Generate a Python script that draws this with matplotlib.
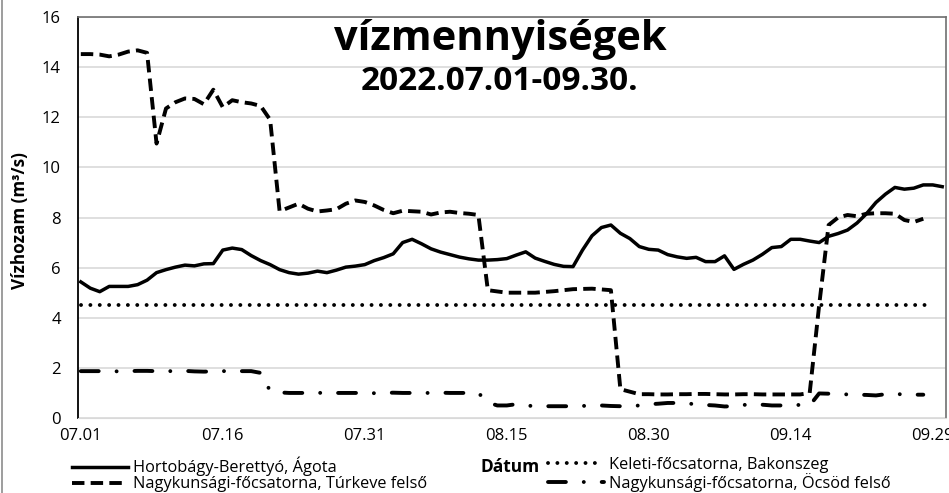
import numpy as np
import matplotlib
matplotlib.use('Agg')
import matplotlib.pyplot as plt
from matplotlib.lines import Line2D

plt.rcParams['font.family'] = ['Open Sans', 'DejaVu Sans']

nan = np.nan

# ---- data: daily discharge (m3/s), 2022.07.01 - 2022.09.30 ----
days = np.arange(92)
tick_days = [0, 15, 30, 45, 60, 75, 90]
tick_labels = ['07.01', '07.16', '07.31', '08.15', '08.30', '09.14', '09.29']

agota = [5.43, 5.18, 5.04, 5.25, 5.25, 5.25, 5.32, 5.50, 5.80, 5.92,
         6.02, 6.10, 6.07, 6.15, 6.16, 6.70, 6.78, 6.72, 6.48, 6.28,
         6.12, 5.92, 5.80, 5.74, 5.78, 5.86, 5.80, 5.90, 6.02, 6.06,
         6.12, 6.28, 6.40, 6.55, 7.00, 7.13, 6.95, 6.75, 6.62, 6.52,
         6.42, 6.35, 6.30, 6.30, 6.32, 6.36, 6.50, 6.63, 6.38, 6.25,
         6.13, 6.05, 6.04, 6.70, 7.27, 7.60, 7.70, 7.37, 7.16, 6.84,
         6.73, 6.70, 6.52, 6.43, 6.37, 6.41, 6.24, 6.24, 6.47, 5.93,
         6.13, 6.30, 6.53, 6.80, 6.84, 7.13, 7.13, 7.06, 7.00, 7.25,
         7.36, 7.50, 7.78, 8.15, 8.60, 8.93, 9.20, 9.13, 9.17, 9.30,
         9.30, 9.23]

turkeve = [14.52, 14.52, 14.50, 14.43, 14.50, 14.62, 14.67, 14.57, 10.95, 12.35,
           12.60, 12.75, 12.73, 12.52, 13.10, 12.40, 12.68, 12.60, 12.55, 12.45,
           11.90, 8.25, 8.40, 8.55, 8.35, 8.24, 8.28, 8.33, 8.55, 8.68,
           8.62, 8.48, 8.30, 8.17, 8.27, 8.25, 8.23, 8.12, 8.20, 8.23,
           8.18, 8.15, 8.10, 5.10, 5.05, 5.00, 5.00, 5.00, 5.00, 5.03,
           5.06, 5.10, 5.14, 5.15, 5.16, 5.13, 5.10, 1.15, 1.05, 0.95,
           0.95, 0.94, 0.94, 0.95, 0.95, 0.96, 0.96, 0.95, 0.94, 0.94,
           0.95, 0.95, 0.94, 0.94, 0.94, 0.94, 0.94, 1.00, 4.50, 7.70,
           8.00, 8.10, 8.05, 8.15, 8.17, 8.17, 8.15, 7.90, 7.82, 7.95,
           nan, nan]

bakonszeg = [4.5] * 91 + [nan]

ocsod = [1.87, 1.87, 1.87, 1.87, 1.86, 1.87, 1.88, 1.88, 1.87, 1.87,
         1.87, 1.88, 1.86, 1.85, 1.86, 1.87, 1.87, 1.87, 1.87, 1.80,
         1.08, 1.02, 1.00, 1.00, 1.00, 1.00, 1.01, 1.00, 1.00, 1.00,
         1.00, 0.99, 1.00, 1.01, 1.00, 1.00, 1.00, 1.00, 1.01, 1.00,
         1.00, 1.00, 1.00, 0.62, 0.50, 0.50, 0.55, 0.50, 0.47, 0.47,
         0.47, 0.47, 0.47, 0.48, 0.50, 0.50, 0.48, 0.47, 0.47, 0.50,
         0.55, 0.57, 0.60, 0.60, 0.58, 0.55, 0.52, 0.50, 0.46, 0.47,
         0.52, 0.55, 0.53, 0.50, 0.50, 0.52, 0.52, 0.50, 0.98, 0.97,
         0.96, 0.94, 0.93, 0.92, 0.90, 0.95, 0.97, 0.93, 0.93, 0.93,
         nan, nan]

names = ['Hortobágy-Berettyó, Ágota',
         'Nagykunsági-főcsatorna, Túrkeve felső',
         'Keleti-főcsatorna, Bakonszeg',
         'Nagykunsági-főcsatorna, Öcsöd felső']

# ---- plot ----
fig = plt.figure(figsize=(9.49, 4.93), dpi=100)
ax = fig.add_axes([77.5 / 949, 1 - 418 / 493, (946 - 77.5) / 949, (418 - 17) / 493])

lw = 2.5
h1, = ax.plot(days, agota, color='black', lw=lw, solid_joinstyle='round')
h2, = ax.plot(days, turkeve, color='black', lw=lw + 0.3, linestyle=(0, (3.2, 1.6)))
h3, = ax.plot(days, bakonszeg, color='black', lw=lw + 0.3, linestyle=(0, (0.01, 2.4)),
              dash_capstyle='round')
h4, = ax.plot(days, ocsod, color='black', lw=lw + 0.3, linestyle=(0, (4.6, 4.6, 0.01, 4.6)),
              dash_capstyle='round')

ax.set_xlim(-0.35, 91.4)
ax.set_ylim(0, 16)
ax.set_yticks(range(0, 17, 2))
ax.set_xticks(tick_days)
ax.set_xticklabels(tick_labels)
ax.tick_params(length=0, labelsize=12, colors='black')
ax.tick_params(axis='y', pad=12)
ax.tick_params(axis='x', pad=7)
ax.grid(axis='y', color='#d9d9d9', lw=1.2)
ax.set_axisbelow(True)
ax.spines['left'].set_color('black')
ax.spines['left'].set_linewidth(1.3)
ax.spines['bottom'].set_color('#d9d9d9')
for s in ['top', 'right']:
    ax.spines[s].set_color('#707070')
    ax.spines[s].set_linewidth(1.2)

# titles
fig.text(500 / 949, 1 - 50 / 493, 'vízmennyiségek', ha='center', va='baseline',
         fontsize=30, fontweight='bold')
fig.text(500 / 949, 1 - 90 / 493, '2022.07.01-09.30.', ha='center', va='baseline',
         fontsize=24, fontweight='bold')

# axis labels
fig.text(20 / 949, 1 - 221 / 493, 'Vízhozam (m³/s)', rotation=90, ha='center', va='center',
         fontsize=12.3, fontweight='bold')
fig.text(510 / 949, 1 - 467 / 493, 'Dátum', ha='center', va='center',
         fontsize=12.5, fontweight='bold')

# legends
leg_kw = dict(loc='upper left', frameon=False, borderpad=0, handlelength=3.4,
              handletextpad=0.35, labelspacing=0.0, fontsize=11.8, borderaxespad=0)
fig.legend(handles=[h1, h2], labels=names[:2], bbox_to_anchor=(72 / 949, 1 - 457 / 493), **leg_kw)
fig.legend(handles=[h3, h4], labels=names[2:], bbox_to_anchor=(548 / 949, 1 - 457 / 493), **leg_kw)

# outer chart border (left edge visible)
fig.add_artist(Line2D([2 / 949, 2 / 949], [0, 1], transform=fig.transFigure,
                      color='#8c8c8c', lw=1.2))

fig.savefig('out.png', dpi=100)
